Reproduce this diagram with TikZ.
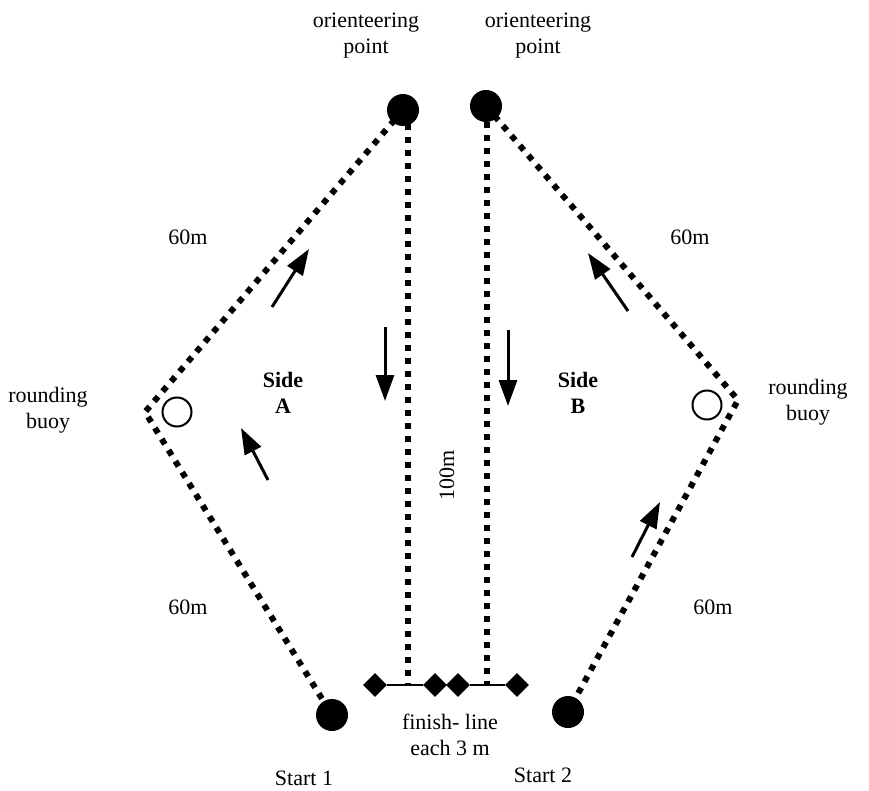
\documentclass[tikz,border=0pt]{standalone}
\usepackage{fontspec}
\setmainfont{Liberation Serif}
\usetikzlibrary{arrows.meta,shapes.geometric}
\begin{document}
\begin{tikzpicture}[x=1pt,y=-1pt,
 route/.style={line width=6pt, dash pattern=on 6pt off 7pt},
 dot/.style={circle, fill=black, minimum size=32pt, inner sep=0pt},
 buoy/.style={circle, draw, fill=white, line width=2pt, minimum size=29pt, inner sep=0pt},
 flag/.style={diamond, fill=black, minimum size=24pt, inner sep=0pt},
 dir/.style={line width=3pt, -{Triangle[length=26pt,width=18pt]}},
 lbl/.style={font=\fontsize{22}{26}\selectfont, align=center, inner sep=0pt}]
\useasboundingbox (0,0) rectangle (869,791);
% coordinates
\coordinate (op1) at (403,110);
\coordinate (op2) at (486,106);
\coordinate (lv) at (145,412);
\coordinate (rv) at (738,400);
\coordinate (st1) at (332,715);
\coordinate (st2) at (568,712);
\coordinate (vt1) at (408,124);
\coordinate (vt2) at (487,122);
% route lines
\draw[route] (op1) -- (lv) -- (st1);
\draw[route] (op2) -- (rv) -- (st2);
% finish lines
\node[flag] (f1) at (375,685) {};
\node[flag] (f2) at (435,685) {};
\node[flag] (f3) at (458,685) {};
\node[flag] (f4) at (517,685) {};
\draw[line width=2pt] (f1) -- (f2);
\draw[line width=2pt] (f3) -- (f4);
\coordinate (vb1) at (408,685);
\coordinate (vb2) at (487,685);
\draw[route] (vt1) -- (vb1);
\draw[route] (vt2) -- (vb2);
% points
\node[dot] (p1) at (op1) {};
\node[dot] (p2) at (op2) {};
\node[dot] (s1) at (st1) {};
\node[dot] (s2) at (st2) {};
\node[buoy] (b1) at (177,412) {};
\node[buoy] (b2) at (707,405) {};
% direction arrows
\coordinate (a1s) at (272,307); \coordinate (a1e) at (309,249);
\coordinate (a2s) at (268,480); \coordinate (a2e) at (241,428);
\coordinate (a3s) at (628,311); \coordinate (a3e) at (588,253);
\coordinate (a4s) at (632,557); \coordinate (a4e) at (660,502);
\coordinate (a5s) at (385,327); \coordinate (a5e) at (385,401);
\coordinate (a6s) at (508,330); \coordinate (a6e) at (508,406);
\draw[dir] (a1s) -- (a1e);
\draw[dir] (a2s) -- (a2e);
\draw[dir] (a3s) -- (a3e);
\draw[dir] (a4s) -- (a4e);
\draw[dir] (a5s) -- (a5e);
\draw[dir] (a6s) -- (a6e);
% labels
\node[lbl] (t1) at (366,36) {orienteering\\point};
\node[lbl] (t2) at (538,36) {orienteering\\point};
\node[lbl] (t3) at (48,410) {rounding\\buoy};
\node[lbl] (t4) at (808,402) {rounding\\buoy};
\node[lbl, font=\fontsize{22}{26}\selectfont\bfseries] (t5) at (283,393) {Side\\A};
\node[lbl, font=\fontsize{22}{26}\selectfont\bfseries] (t6) at (578,393) {Side\\B};
\node[lbl] (t7) at (188,237) {60m};
\node[lbl] (t8) at (690,237) {60m};
\node[lbl] (t9) at (188,607) {60m};
\node[lbl] (t10) at (713,607) {60m};
\node[lbl, rotate=90] (t11) at (447,475) {100m};
\node[lbl] (t12) at (450,735) {finish- line\\each 3 m};
\node[lbl] (t13) at (304,778) {Start 1};
\node[lbl] (t14) at (543,775) {Start 2};
\end{tikzpicture}
\end{document}
